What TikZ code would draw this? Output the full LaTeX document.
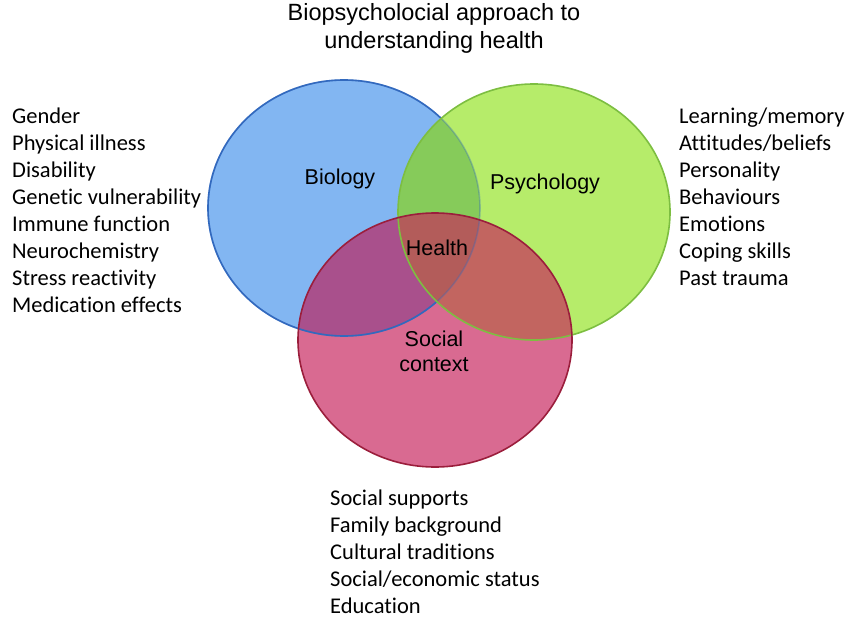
\documentclass[tikz,border=0pt]{standalone}
\usepackage{fontspec}
\setmainfont{Liberation Sans}
\newfontfamily\listfont[Ligatures={NoCommon}]{Carlito}
\definecolor{bioF}{RGB}{130,182,242}
\definecolor{bioD}{RGB}{50,105,190}
\definecolor{psyF}{RGB}{182,236,106}
\definecolor{psyD}{RGB}{125,190,65}
\definecolor{socF}{RGB}{217,106,145}
\definecolor{socD}{RGB}{155,30,60}
\definecolor{bpF}{RGB}{134,203,90}
\definecolor{bsF}{RGB}{169,80,140}
\definecolor{psF}{RGB}{194,101,96}
\definecolor{allF}{RGB}{179,92,90}
\begin{document}
\begin{tikzpicture}[x=1pt,y=-1pt,
  listtxt/.style={anchor=base west,inner sep=0pt,font=\listfont\fontsize{22.5}{27}\selectfont},
  lbl/.style={inner sep=0pt,font=\fontsize{21.5}{25}\selectfont,align=center}]
\useasboundingbox (0,0) rectangle (850,623);
\def\bio{(344,208) ellipse [x radius=136,y radius=128]}
\def\psy{(534,212) ellipse [x radius=136,y radius=128]}
\def\soc{(435,340) ellipse [x radius=137,y radius=127]}
% fills
\fill[bioF] \bio;
\fill[psyF] \psy;
\fill[socF] \soc;
\begin{scope}\clip \bio; \fill[bpF] \psy; \end{scope}
\begin{scope}\clip \bio; \fill[bsF] \soc; \end{scope}
\begin{scope}\clip \psy; \fill[psF] \soc; \end{scope}
\begin{scope}\clip \bio; \clip \psy; \fill[allF] \soc; \end{scope}
% borders
\draw[bioD,line width=1.6pt,opacity=0.35] \bio;
\begin{scope}[even odd rule]\clip (0,0) rectangle (850,623) \psy;
  \draw[bioD,line width=1.6pt] \bio; \end{scope}
\draw[psyD,line width=1.6pt] \psy;
\draw[socD,line width=1.6pt] \soc;
% title
\node[lbl,font=\fontsize{23.5}{28}\selectfont] (title) at (434,28) {Biopsycholocial approach to\\understanding health};
% circle labels
\node[lbl] (biology) at (340,179) {Biology};
\node[lbl] (psychology) at (545,184) {Psychology};
\node[lbl] (health) at (437,248) {Health};
\node[lbl,font=\fontsize{21.5}{25}\selectfont] (social) at (434,351) {Social\\context};
% lists
\foreach \t [count=\i from 0] in {Gender,Physical illness,Disability,Genetic vulnerability,Immune function,Neurochemistry,Stress reactivity,Medication effects}
  \node[listtxt] (b\i) at (12,{123+27*\i}) {\t};
\foreach \t [count=\i from 0] in {Learning/memory,Attitudes/beliefs,Personality,Behaviours,Emotions,Coping skills,Past trauma}
  \node[listtxt] (p\i) at (679,{123+27*\i}) {\t};
\foreach \t [count=\i from 0] in {Social supports,Family background,Cultural traditions,Social/economic status,Education}
  \node[listtxt] (s\i) at (330,{505+27*\i}) {\t};
\end{tikzpicture}
\end{document}
